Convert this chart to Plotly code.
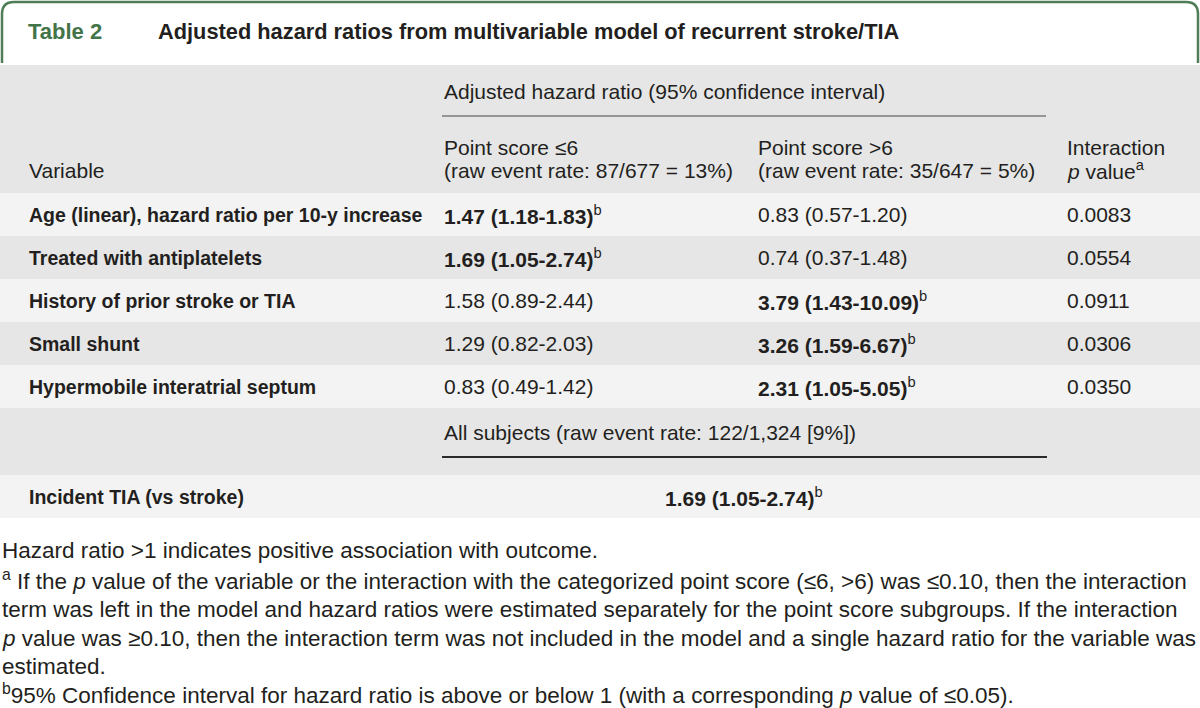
import plotly.graph_objects as go

# ---------------- data ----------------
table_label = "Table 2"
table_title = "Adjusted hazard ratios from multivariable model of recurrent stroke/TIA"
group_header = "Adjusted hazard ratio (95% confidence interval)"
col_variable = "Variable"
col_low = ["Point score ≤6", "(raw event rate: 87/677 = 13%)"]
col_high = ["Point score >6", "(raw event rate: 35/647 = 5%)"]
col_p = ["Interaction", "<i>p</i> value<sup>a</sup>"]

variables = [
    "Age (linear), hazard ratio per 10-y increase",
    "Treated with antiplatelets",
    "History of prior stroke or TIA",
    "Small shunt",
    "Hypermobile interatrial septum",
]
hr_low = ["1.47 (1.18-1.83)", "1.69 (1.05-2.74)", "1.58 (0.89-2.44)", "1.29 (0.82-2.03)", "0.83 (0.49-1.42)"]
hr_low_sig = [True, True, False, False, False]
hr_high = ["0.83 (0.57-1.20)", "0.74 (0.37-1.48)", "3.79 (1.43-10.09)", "3.26 (1.59-6.67)", "2.31 (1.05-5.05)"]
hr_high_sig = [False, False, True, True, True]
p_interaction = ["0.0083", "0.0554", "0.0911", "0.0306", "0.0350"]

all_subjects_header = "All subjects (raw event rate: 122/1,324 [9%])"
overall_variable = "Incident TIA (vs stroke)"
overall_hr = "1.69 (1.05-2.74)"
overall_sig = True

footnotes = [
    "Hazard ratio >1 indicates positive association with outcome.",
    "<sup>a</sup> If the <i>p</i> value of the variable or the interaction with the categorized point score (≤6, >6) was ≤0.10, then the interaction",
    "term was left in the model and hazard ratios were estimated separately for the point score subgroups. If the interaction",
    "<i>p</i> value was ≥0.10, then the interaction term was not included in the model and a single hazard ratio for the variable was",
    "estimated.",
    "<sup>b</sup>95% Confidence interval for hazard ratio is above or below 1 (with a corresponding <i>p</i> value of ≤0.05).",
]

# ---------------- style ----------------
FONT = "Liberation Sans"
TXT = "#231f20"
GREEN = "#437449"
GRAY = "#e6e6e6"
LIGHT = "#f3f3f3"
FS = 21          # regular body text
FS_LABEL = 19.5  # bold row labels
FS_NOTE = 22.5   # footnotes

W, H = 1200, 708
X_COLS = [27, 442, 756, 1065]

fig = go.Figure()
shapes = []
ann = []


def text(x, y, s, size=FS, color=TXT, anchor="left"):
    ann.append(dict(x=x, y=y, xref="x", yref="y", text=s, showarrow=False,
                    xanchor=anchor, yanchor="middle",
                    font=dict(family=FONT, size=size, color=color)))


def bold_sig(s, sig):
    return f"<b>{s}</b><sup>b</sup>" if sig else s


# title box with rounded top corners
shapes.append(dict(type="path", xref="x", yref="y",
                   path="M 2,63 L 2,14 Q 2,2 14,2 L 1186,2 Q 1198,2 1198,14 L 1198,63",
                   line=dict(color="#4f7d57", width=2.5)))
text(26, 31, f"<b>{table_label}</b>", size=22, color=GREEN)
text(156, 31, f"<b>{table_title}</b>", size=21.8)

# header block
shapes.append(dict(type="rect", xref="x", yref="y", x0=0, x1=W, y0=65, y1=193,
                   fillcolor=GRAY, line=dict(width=0), layer="below"))
text(X_COLS[1], 91, group_header)
shapes.append(dict(type="line", xref="x", yref="y", x0=442, x1=1046, y0=116, y1=116,
                   line=dict(color="#7a7a7a", width=1.5)))
text(X_COLS[0], 170, col_variable)
text(X_COLS[1], 147, col_low[0])
text(X_COLS[1], 170, col_low[1])
text(X_COLS[2], 147, col_high[0])
text(X_COLS[2], 170, col_high[1])
text(X_COLS[3], 147, col_p[0])
text(X_COLS[3], 170, col_p[1])

# body rows
row_top = 193
row_h = 43
for i, v in enumerate(variables):
    y0 = row_top + i * row_h
    shapes.append(dict(type="rect", xref="x", yref="y", x0=0, x1=W, y0=y0, y1=y0 + row_h,
                       fillcolor=LIGHT if i % 2 == 0 else GRAY, line=dict(width=0), layer="below"))
    yc = y0 + row_h / 2
    text(X_COLS[0], yc, f"<b>{v}</b>", size=FS_LABEL)
    text(X_COLS[1], yc, bold_sig(hr_low[i], hr_low_sig[i]))
    text(X_COLS[2], yc, bold_sig(hr_high[i], hr_high_sig[i]))
    text(X_COLS[3], yc, p_interaction[i])

y_all = row_top + len(variables) * row_h
shapes.append(dict(type="rect", xref="x", yref="y", x0=0, x1=W, y0=y_all, y1=y_all + 67,
                   fillcolor=GRAY, line=dict(width=0), layer="below"))
text(X_COLS[1], y_all + 24, all_subjects_header)
shapes.append(dict(type="line", xref="x", yref="y", x0=442, x1=1047, y0=y_all + 49, y1=y_all + 49,
                   line=dict(color="#2a2a2a", width=2)))

y_inc = y_all + 67
shapes.append(dict(type="rect", xref="x", yref="y", x0=0, x1=W, y0=y_inc, y1=y_inc + 43,
                   fillcolor=LIGHT, line=dict(width=0), layer="below"))
text(X_COLS[0], y_inc + 22, f"<b>{overall_variable}</b>", size=FS_LABEL)
text((442 + 1046) / 2, y_inc + 22, bold_sig(overall_hr, overall_sig), anchor="center")

# footnotes
fn_y = [550, 580, 609, 638, 666, 694]
for yy, s in zip(fn_y, footnotes):
    text(0, yy, s, size=FS_NOTE)

fig.update_layout(
    width=W, height=H, margin=dict(l=0, r=0, t=0, b=0),
    paper_bgcolor="white", plot_bgcolor="white",
    xaxis=dict(range=[0, W], visible=False, fixedrange=True),
    yaxis=dict(range=[H, 0], visible=False, fixedrange=True),
    shapes=shapes, annotations=ann, showlegend=False,
)

fig.write_html("out.html", post_script="document.body.style.margin='0';",
               config={"displayModeBar": False})
